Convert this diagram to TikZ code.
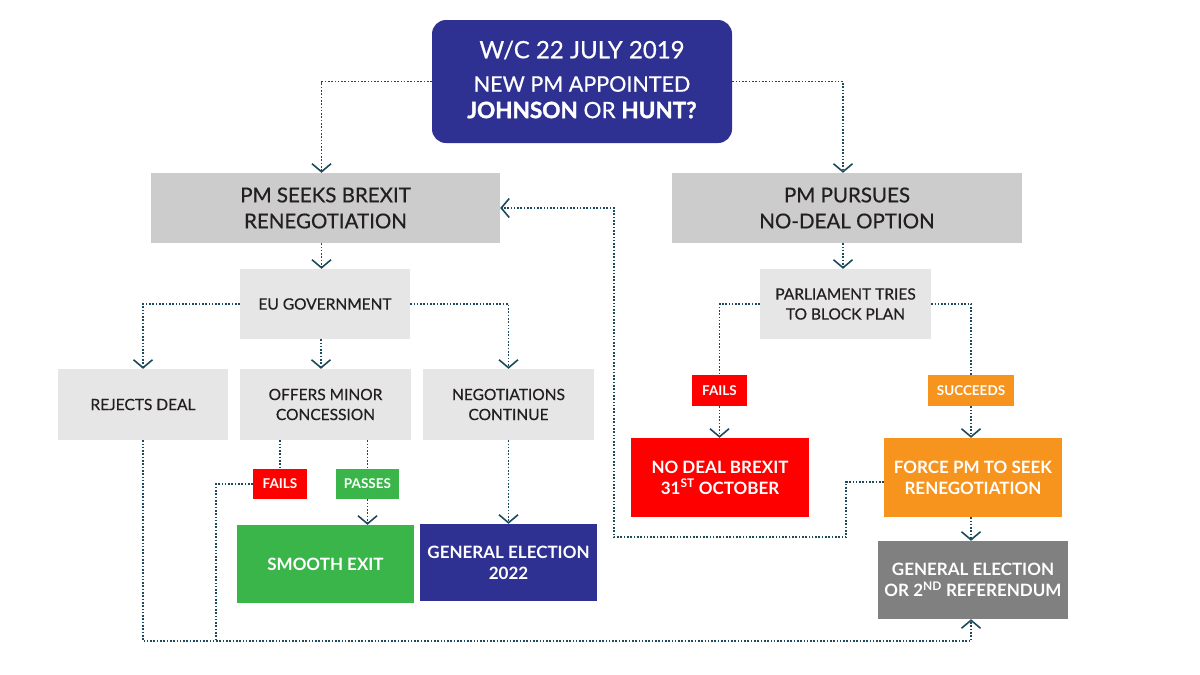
\documentclass[tikz,border=0pt]{standalone}
\usepackage{fontspec}
\setmainfont{Lato}
\newfontfamily\medf{Lato}[FakeBold=0.5]
\newfontfamily\heavy{Lato}[FakeBold=1.6]
\usetikzlibrary{arrows.meta}
\definecolor{navy}{HTML}{2E3192}
\definecolor{gdark}{HTML}{CCCCCC}
\definecolor{glight}{HTML}{E6E6E6}
\definecolor{redc}{HTML}{FF0000}
\definecolor{greenc}{HTML}{3AB54A}
\definecolor{orangec}{HTML}{F7941D}
\definecolor{gmid}{HTML}{808080}
\definecolor{lc}{HTML}{1D4A5C}
\definecolor{txt}{HTML}{231F20}
\begin{document}
\begin{tikzpicture}[x=1pt,y=-1pt,
  conn/.style={draw=lc, line width=1.6pt, dash pattern=on 1.6pt off 1.7pt},
  arr/.style={conn, -{Straight Barb[length=8pt,width=19pt,line width=1.6pt]}},
  box/.style={inner sep=0pt, align=center, text=txt},
  bigbox/.style={box, fill=gdark, font={\medf\fontsize{20.5}{26}\selectfont}},
  midbox/.style={box, fill=glight, font={\medf\fontsize{15.5}{20}\selectfont}},
  colbox/.style={box, text=white, font={\bfseries\fontsize{17}{21}\selectfont}},
  tag/.style={box, text=white, font={\bfseries\fontsize{13.5}{15}\selectfont}},
]
\useasboundingbox (0,0) rectangle (1200,675);
\fill[white] (0,0) rectangle (1200,675);

% top
\node[box, fill=navy, rounded corners=14pt, minimum width=300pt, minimum height=123pt, text=white] (top) at (582,81.5) {};
\node[text=white, font={\medf\fontsize{24}{28}\selectfont}] (t1) at (582,50) {W/C 22 JULY 2019};
\node[text=white, font={\medf\fontsize{21.5}{26}\selectfont}] (t2) at (582,84) {NEW PM APPOINTED};
\node[text=white, font={\fontsize{22.5}{26}\selectfont}] (t3) at (582,110) {{\heavy\bfseries JOHNSON} {\medf OR} {\heavy\bfseries HUNT?}};

% level 1
\node[bigbox, minimum width=349pt, minimum height=70pt] (seeks) at (325.5,208) {PM SEEKS BREXIT\\RENEGOTIATION};
\node[bigbox, minimum width=350pt, minimum height=70pt] (pursues) at (847,208) {PM PURSUES\\NO-DEAL OPTION};

% level 2
\node[midbox, minimum width=170pt, minimum height=70pt] (eu) at (325,304) {EU GOVERNMENT};
\node[midbox, minimum width=171pt, minimum height=70pt] (parl) at (845.5,304) {PARLIAMENT TRIES\\TO BLOCK PLAN};

% level 3
\node[midbox, minimum width=170pt, minimum height=71pt] (rejects) at (143,404.5) {REJECTS DEAL};
\node[midbox, minimum width=171pt, minimum height=71pt] (offers) at (325.5,404.5) {OFFERS MINOR\\CONCESSION};
\node[midbox, minimum width=171pt, minimum height=71pt] (negot) at (508.5,404.5) {NEGOTIATIONS\\CONTINUE};

% tags
\node[tag, fill=redc, minimum width=54pt, minimum height=30pt] (failsA) at (280,484) {FAILS};
\node[tag, fill=greenc, minimum width=63pt, minimum height=30pt] (passes) at (367.5,484) {PASSES};
\node[tag, fill=redc, minimum width=55pt, minimum height=31pt] (failsB) at (719.5,390.5) {FAILS};
\node[tag, fill=orangec, minimum width=86pt, minimum height=31pt] (succ) at (971,390.5) {SUCCEEDS};

% outcomes
\node[colbox, fill=greenc, minimum width=177pt, minimum height=78pt] (smooth) at (325.5,564) {SMOOTH EXIT};
\node[colbox, fill=navy, minimum width=177pt, minimum height=77pt] (ge22) at (508.5,562.5) {GENERAL ELECTION\\2022};
\node[colbox, fill=redc, minimum width=178pt, minimum height=79pt] (nodeal) at (720,477.5) {NO DEAL BREXIT\\31\textsuperscript{ST} OCTOBER};
\node[colbox, fill=orangec, minimum width=178pt, minimum height=79pt] (force) at (973,477.5) {FORCE PM TO SEEK\\RENEGOTIATION};
\node[colbox, fill=gmid, minimum width=190pt, minimum height=78pt] (geref) at (973,580) {GENERAL ELECTION\\OR 2\textsuperscript{ND} REFERENDUM};

% helper coordinates
\coordinate (k1) at (846,537);
\coordinate (k2) at (614,537);
\coordinate (b1) at (143,641);
\coordinate (b2) at (216,641);

% connectors
\draw[arr] (top.west) -| ([xshift=-4pt]seeks.north);
\draw[arr] (top.east) -| ([xshift=-4pt]pursues.north);
\draw[arr] ([xshift=-4pt]seeks.south) -- ([xshift=-4pt]seeks.south |- eu.north);
\draw[arr] ([xshift=-4pt]pursues.south) -- ([xshift=-4pt]pursues.south |- parl.north);
\draw[arr] (eu.west) -| (rejects.north);
\draw[arr] ([xshift=-4pt]eu.south) -- ([xshift=-4pt]eu.south |- offers.north);
\draw[arr] (eu.east) -| (negot.north);
\draw[conn] (parl.west) -| (failsB.north);
\draw[conn] (parl.east) -| (succ.north);
\draw[arr] (failsB.south) -- (failsB.south |- nodeal.north);
\draw[arr] (succ.south) -- (succ.south |- force.north);
\draw[arr] (succ.south |- force.south) -- (succ.south |- geref.north);
\draw[arr] ([yshift=-4.5pt]force.west) -| (k1) -- (k2) |- (seeks.east);
\draw[conn] (failsA.north |- offers.south) -- (failsA.north);
\draw[conn] (passes.north |- offers.south) -- (passes.north);
\draw[arr] (passes.south) -- (passes.south |- smooth.north);
\draw[arr] (negot.south) -- (ge22.north);
\draw[conn] (failsA.west) -| (b2);
\draw[arr] (rejects.south) -- (b1) -| (succ.south |- geref.south);
\end{tikzpicture}
\end{document}
